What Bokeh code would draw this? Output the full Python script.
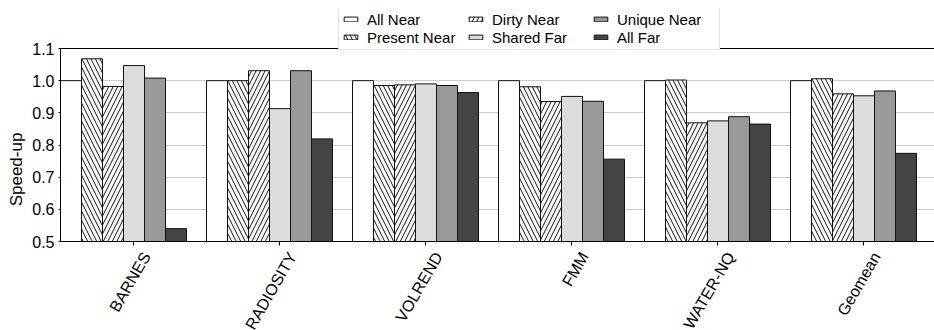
import numpy as np
from bokeh.plotting import figure
from bokeh.models import Range1d, FixedTicker, NumeralTickFormatter, Legend, LegendItem, Span
from bokeh.core.properties import value
from bokeh.embed import file_html
from bokeh.resources import INLINE

categories = ["BARNES", "RADIOSITY", "VOLREND", "FMM", "WATER-NQ", "Geomean"]
series = ["All Near", "Present Near", "Dirty Near", "Shared Far", "Unique Near", "All Far"]
all_near     = [1.000, 1.000, 1.000, 1.000, 1.000, 1.000]
present_near = [1.068, 1.000, 0.985, 0.981, 1.002, 1.006]
dirty_near   = [0.982, 1.031, 0.987, 0.935, 0.869, 0.959]
shared_far   = [1.047, 0.913, 0.990, 0.951, 0.875, 0.953]
unique_near  = [1.008, 1.031, 0.985, 0.936, 0.888, 0.968]
all_far      = [0.540, 0.819, 0.963, 0.756, 0.865, 0.774]
y_ticks = [0.5, 0.6, 0.7, 0.8, 0.9, 1.0, 1.1]

values = [all_near, present_near, dirty_near, shared_far, unique_near, all_far]
fills = ["white", "white", "white", "#dcdcdc", "#999999", "#444444"]
hatches = [None, "\\", "/", None, None, None]

FONT = "Liberation Sans"
W, H = 934, 330
LEFT, TOP = 60, 8             # frame offsets in px
AX_TOP, AX_BOT = 48, 241      # pixel rows of y = 1.1 and y = 0.5
y0, y1 = y_ticks[0], y_ticks[-1]
px_per_unit = (AX_BOT - AX_TOP) / (y1 - y0)
y_start = y0 - (H - AX_BOT) / px_per_unit
y_end = y1 + (AX_TOP - TOP) / px_per_unit

group_px = 146
bar_w = 21 / group_px

p = figure(width=W, height=H, output_backend="svg", toolbar_location=None,
           x_range=Range1d(0, (W - LEFT) / group_px), y_range=Range1d(y_start, y_end),
           min_border_left=LEFT, min_border_right=0, min_border_top=TOP, min_border_bottom=0)
p.outline_line_color = None
p.background_fill_color = "white"
p.border_fill_color = "white"
p.xaxis.visible = False

idx = np.arange(len(categories))
renderers = []
for j, (name, vals) in enumerate(zip(series, values)):
    xs = idx + (j + 0.5) * bar_w
    kw = dict(x=xs, top=vals, bottom=y0, width=bar_w, fill_color=fills[j],
              line_color="#111111", line_width=1)
    if hatches[j]:
        kw.update(hatch_pattern=hatches[j], hatch_color="#111111", hatch_scale=9, hatch_weight=1)
    renderers.append(p.vbar(**kw))

p.xgrid.visible = False
p.ygrid.ticker = FixedTicker(ticks=y_ticks[1:-1])
p.ygrid.grid_line_color = "#999999"
p.ygrid.grid_line_dash = "1 1"

p.yaxis.bounds = (y0, y1)
p.yaxis.ticker = FixedTicker(ticks=y_ticks)
p.yaxis.formatter = NumeralTickFormatter(format="0.0")
p.yaxis.axis_label = "Speed-up"
p.yaxis.axis_label_text_font = FONT
p.yaxis.axis_label_text_font_style = "normal"
p.yaxis.axis_label_text_font_size = "17px"
p.yaxis.axis_label_text_color = "black"
p.yaxis.axis_label_standoff = 3
p.yaxis.major_label_text_font = FONT
p.yaxis.major_label_text_font_size = "16px"
p.yaxis.major_label_text_color = "black"
p.yaxis.major_label_standoff = 4
p.yaxis.major_tick_in = 0
p.yaxis.major_tick_out = 2
p.yaxis.major_tick_line_color = "black"
p.yaxis.minor_tick_line_color = None
p.yaxis.axis_line_color = "black"

# x axis line, top border, tick marks and category labels drawn inside the frame
p.add_layout(Span(location=y0, dimension="width", line_color="black", line_width=1))
p.add_layout(Span(location=y1, dimension="width", line_color="black", line_width=1))
tick_pos = idx + 0.5
p.segment(x0=tick_pos, y0=[y0] * len(tick_pos), x1=tick_pos,
          y1=[y0 - 4 / px_per_unit] * len(tick_pos), line_color="black", line_width=1)
p.text(x=tick_pos + 13 / group_px, y=[y0 - 12 / px_per_unit] * len(tick_pos), text=categories,
       angle=np.pi / 3, text_align="right", text_baseline="middle",
       text_font=value(FONT), text_font_size="16px", text_color="black")

legend = Legend(items=[LegendItem(label=s, renderers=[r]) for s, r in zip(series, renderers)],
                location=(278, H - TOP - (AX_TOP - TOP) - 1.5), orientation="vertical", nrows=2,
                label_text_font=FONT, label_text_font_size="15px", label_text_color="black",
                glyph_width=17, glyph_height=6, label_standoff=8, label_width=99,
                label_height=17, spacing=1, padding=3, margin=0,
                border_line_color="#cccccc", border_line_width=1,
                background_fill_color="white", background_fill_alpha=1.0)
p.add_layout(legend)

open("out.html", "w").write(file_html(p, INLINE))
